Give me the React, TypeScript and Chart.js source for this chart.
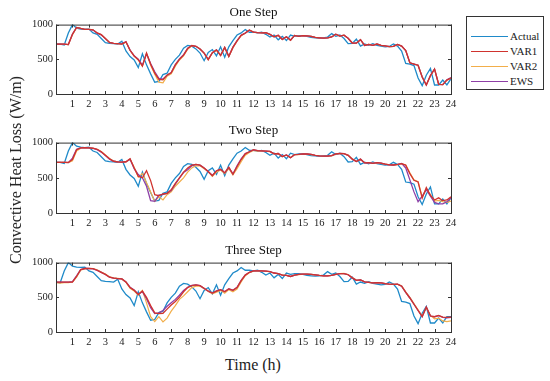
import React, { useEffect, useRef } from "react";
import { Chart, registerables } from "chart.js";
Chart.register(...registerables);

const SERIF = "'Liberation Serif', 'Times New Roman', serif";
Chart.defaults.font.family = SERIF;

// 15-minute sampling grid, hours 0..24
const times: number[] = Array.from({ length: 97 }, (_, i) => i / 4);
const hourTicks: number[] = [0, 1, 2, 3, 4, 5, 6, 7, 8, 9, 10, 11, 12, 13, 14, 15, 16, 17, 18, 19, 20, 21, 22, 23, 24];
const yTicks: number[] = [0, 500, 1000];
const panelTitles: string[] = ["One Step", "Two Step", "Three Step"];
const seriesNames: string[] = ["Actual", "VAR1", "VAR2", "EWS"];

const actual: number[] = [
  720, 720, 705, 880, 1000, 950, 935, 930, 935, 880, 860, 800, 740, 730, 725, 720,
  760, 620, 540, 490, 380, 580, 420, 290, 170, 180, 280, 300, 420, 500, 560, 660,
  700, 690, 650, 590, 480, 600, 640, 550, 680, 530, 680, 770, 850, 880, 930, 890,
  890, 880, 890, 860, 820, 850, 780, 830, 770, 850, 830, 840, 840, 830, 815, 810,
  805, 810, 820, 870, 830, 850, 800, 725, 730, 790, 690, 720, 700, 725, 700, 690,
  680, 685, 720, 690, 620, 440, 430, 410, 230, 120, 270, 370, 130, 130, 200, 130,
  220,
];
const actualThree: number[] = [
  720, 705, 880, 1000, 950, 935, 930, 935, 880, 860, 800, 740, 730, 725, 720, 760,
  620, 540, 490, 380, 580, 420, 290, 170, 180, 280, 300, 420, 500, 560, 660, 700,
  690, 650, 590, 480, 600, 640, 550, 680, 530, 680, 770, 850, 880, 930, 890, 890,
  880, 890, 860, 820, 850, 780, 830, 770, 850, 830, 840, 840, 830, 815, 810, 805,
  810, 820, 870, 830, 850, 800, 725, 730, 790, 690, 720, 700, 725, 700, 690, 680,
  685, 720, 690, 620, 440, 430, 410, 230, 120, 270, 370, 130, 130, 200, 130, 220,
  220,
];

const var1One: number[] = [
  720, 720, 720, 712, 860, 960, 945, 932, 930, 925, 880, 855, 800, 742, 730, 725,
  720, 752, 630, 548, 495, 400, 590, 430, 300, 210, 205, 275, 305, 420, 500, 560,
  655, 698, 688, 648, 590, 495, 595, 635, 555, 672, 540, 672, 765, 845, 878, 922,
  892, 885, 882, 885, 858, 825, 845, 785, 825, 775, 845, 830, 840, 838, 830, 815,
  810, 806, 810, 822, 862, 835, 848, 802, 735, 732, 782, 700, 716, 702, 720, 700,
  692, 682, 686, 715, 690, 625, 450, 432, 415, 245, 130, 265, 360, 140, 135, 200,
  230,
];
const var2One: number[] = [
  720, 720, 720, 712, 855, 955, 945, 932, 930, 925, 880, 855, 800, 742, 730, 725,
  720, 748, 628, 545, 490, 405, 585, 415, 285, 170, 160, 255, 290, 400, 490, 550,
  645, 695, 688, 648, 588, 495, 592, 632, 555, 668, 540, 668, 760, 840, 875, 920,
  892, 885, 882, 885, 858, 825, 845, 785, 825, 775, 845, 830, 840, 838, 830, 815,
  810, 806, 810, 822, 860, 835, 848, 802, 735, 732, 782, 700, 716, 702, 720, 700,
  692, 682, 686, 715, 690, 625, 450, 432, 415, 245, 130, 260, 360, 140, 135, 200,
  230,
];
const ewsOne: number[] = [
  720, 720, 720, 712, 865, 960, 945, 932, 930, 922, 878, 852, 798, 742, 730, 725,
  722, 755, 632, 550, 500, 415, 580, 440, 320, 225, 215, 270, 310, 425, 505, 565,
  660, 698, 688, 648, 590, 500, 595, 635, 558, 672, 545, 675, 768, 848, 878, 920,
  890, 885, 882, 885, 858, 825, 845, 788, 825, 778, 845, 830, 840, 838, 830, 815,
  810, 806, 810, 822, 862, 835, 848, 802, 735, 732, 782, 700, 716, 702, 720, 700,
  692, 682, 686, 715, 690, 625, 450, 432, 415, 245, 130, 265, 360, 140, 135, 205,
  235,
];

const var1Two: number[] = [
  720, 720, 720, 718, 760, 900, 925, 930, 925, 920, 905, 870, 820, 770, 735, 725,
  722, 728, 770, 640, 520, 500, 600, 460, 260, 245, 270, 280, 330, 420, 500, 580,
  640, 680, 690, 680, 640, 590, 530, 600, 620, 570, 650, 550, 660, 760, 840, 870,
  900, 885, 882, 880, 875, 840, 845, 800, 825, 785, 830, 832, 840, 838, 832, 820,
  812, 808, 810, 815, 840, 845, 842, 820, 765, 730, 765, 712, 715, 705, 715, 708,
  695, 685, 682, 690, 700, 680, 560, 465, 440, 210, 360, 250, 185, 215, 175, 185,
  230,
];
const var2Two: number[] = [
  720, 720, 720, 716, 740, 880, 920, 928, 925, 920, 905, 872, 825, 775, 738, 726,
  722, 724, 765, 650, 510, 560, 430, 300, 165, 230, 185, 260, 300, 380, 440, 500,
  580, 640, 670, 670, 630, 585, 520, 580, 610, 560, 630, 540, 630, 730, 820, 860,
  890, 880, 880, 878, 872, 840, 840, 805, 820, 788, 828, 830, 838, 836, 830, 820,
  812, 808, 808, 812, 835, 845, 842, 822, 770, 735, 760, 715, 715, 705, 712, 706,
  695, 685, 680, 688, 700, 680, 570, 470, 445, 230, 340, 260, 170, 180, 160, 150,
  170,
];
const ewsTwo: number[] = [
  720, 720, 720, 716, 780, 905, 925, 930, 925, 918, 900, 865, 815, 765, 735, 725,
  722, 728, 765, 630, 545, 500, 380, 175, 165, 255, 265, 280, 320, 410, 495, 575,
  615, 670, 690, 680, 640, 585, 535, 600, 620, 570, 645, 555, 670, 770, 845, 870,
  895, 885, 882, 880, 875, 840, 845, 805, 825, 785, 830, 832, 840, 838, 832, 820,
  812, 808, 810, 815, 840, 845, 842, 820, 765, 730, 765, 712, 715, 705, 715, 708,
  695, 685, 682, 690, 705, 640, 470, 300, 160, 240, 330, 240, 150, 130, 130, 160,
  215,
];

const var1Three: number[] = [
  720, 720, 720, 718, 720, 800, 900, 915, 915, 912, 890, 860, 830, 790, 775, 770,
  765, 720, 640, 600, 540, 590, 500, 380, 275, 265, 270, 330, 390, 440, 500, 580,
  640, 670, 680, 670, 630, 590, 560, 590, 610, 580, 620, 600, 640, 740, 820, 860,
  880, 882, 880, 878, 870, 850, 840, 820, 815, 800, 820, 830, 835, 835, 830, 822,
  815, 810, 810, 815, 830, 840, 842, 825, 780, 745, 752, 722, 716, 708, 712, 708,
  698, 690, 685, 688, 660, 570, 490, 400, 310, 220, 360, 230, 220, 240, 215, 210,
  215,
];
const var2Three: number[] = [
  710, 705, 710, 712, 720, 790, 890, 912, 915, 915, 895, 865, 835, 795, 780, 772,
  765, 718, 630, 590, 530, 600, 420, 220, 150, 220, 145, 200, 300, 380, 470, 520,
  580, 640, 660, 660, 625, 585, 550, 575, 600, 560, 610, 580, 620, 720, 810, 855,
  878, 880, 878, 876, 868, 850, 840, 822, 815, 800, 820, 828, 835, 835, 830, 822,
  815, 810, 810, 815, 830, 842, 845, 828, 785, 748, 752, 724, 716, 708, 712, 708,
  698, 690, 685, 688, 668, 580, 500, 410, 320, 230, 350, 240, 190, 200, 160, 150,
  160,
];
const ewsThree: number[] = [
  720, 720, 720, 718, 725, 810, 900, 915, 915, 910, 888, 858, 828, 790, 775, 770,
  765, 722, 645, 605, 545, 580, 480, 350, 265, 275, 310, 370, 420, 470, 530, 600,
  645, 672, 680, 668, 628, 588, 562, 592, 610, 582, 622, 602, 645, 745, 822, 860,
  880, 882, 880, 878, 870, 850, 840, 820, 815, 800, 820, 830, 835, 835, 830, 822,
  815, 810, 810, 815, 830, 840, 842, 825, 780, 745, 752, 722, 716, 708, 712, 708,
  698, 690, 685, 688, 660, 570, 490, 400, 310, 220, 360, 230, 220, 235, 210, 205,
  210,
];

const COLORS = {
  Actual: "#1f8ac9",
  VAR1: "#d0332e",
  VAR2: "#f2ae4a",
  EWS: "#8e3fa6",
};

const pts = (vals: number[]) => times.map((t, i) => ({ x: t, y: vals[i] }));

const boxPlugin = {
  id: "boxTicks",
  afterDatasetsDraw(chart: any) {
    const { ctx, chartArea: a, scales } = chart;
    const xs = scales.x;
    const ys = scales.y;
    ctx.save();
    ctx.strokeStyle = "#333";
    ctx.lineWidth = 1;
    ctx.strokeRect(a.left + 0.5, a.top + 0.5, a.right - a.left, a.bottom - a.top);
    const L = 3;
    ctx.beginPath();
    hourTicks.forEach((h) => {
      const px = Math.round(xs.getPixelForValue(h)) + 0.5;
      ctx.moveTo(px, a.bottom);
      ctx.lineTo(px, a.bottom - L);
      ctx.moveTo(px, a.top);
      ctx.lineTo(px, a.top + L);
    });
    yTicks.forEach((v) => {
      const py = Math.round(ys.getPixelForValue(v)) + 0.5;
      ctx.moveTo(a.left, py);
      ctx.lineTo(a.left + L, py);
      ctx.moveTo(a.right, py);
      ctx.lineTo(a.right - L, py);
    });
    ctx.stroke();
    ctx.restore();
  },
};

type PanelProps = {
  title: string;
  top: number;
  height: number;
  act: number[];
  v1: number[];
  v2: number[];
  ews: number[];
};

function Panel({ title, top, height, act, v1, v2, ews }: PanelProps) {
  const ref = useRef<HTMLCanvasElement | null>(null);
  useEffect(() => {
    if (!ref.current) return;
    const mk = (label: string, vals: number[], order: number, width: number) => ({
      label,
      data: pts(vals),
      borderColor: (COLORS as any)[label],
      backgroundColor: (COLORS as any)[label],
      borderWidth: width,
      pointRadius: 0,
      tension: 0,
      fill: false,
      order,
    });
    const chart = new Chart(ref.current, {
      type: "line",
      data: {
        datasets: [
          mk(seriesNames[0], act, 3, 1.3),
          mk(seriesNames[1], v1, 0, 1.3),
          mk(seriesNames[2], v2, 2, 1.2),
          mk(seriesNames[3], ews, 1, 1.3),
        ],
      },
      options: {
        responsive: false,
        animation: false,
        layout: { padding: { left: 0, right: 99, top: 0, bottom: 0 } },
        plugins: {
          legend: { display: false },
          tooltip: { enabled: false },
          title: {
            display: true,
            text: title,
            fullSize: false,
            color: "#111",
            font: { family: SERIF, size: 13, weight: "normal" },
            padding: { top: 5, bottom: 4 },
          },
        },
        scales: {
          x: {
            type: "linear",
            min: 0,
            max: 24,
            grid: { display: false, drawTicks: false },
            border: { display: false },
            afterBuildTicks: (s: any) => {
              s.ticks = hourTicks.map((h) => ({ value: h }));
            },
            ticks: {
              autoSkip: false,
              maxRotation: 0,
              padding: 4,
              color: "#222",
              font: { family: SERIF, size: 10.5 },
              callback: (v: any) => (v === 0 ? "" : String(v)),
            },
            afterFit: (s: any) => {
              s.height = 16;
            },
          },
          y: {
            min: 0,
            max: 1000,
            grid: { display: false, drawTicks: false },
            border: { display: false },
            afterBuildTicks: (s: any) => {
              s.ticks = yTicks.map((v) => ({ value: v }));
            },
            ticks: {
              padding: 3,
              color: "#222",
              font: { family: SERIF, size: 10.5 },
              callback: (v: any) => String(v),
            },
            afterFit: (s: any) => {
              s.width = 56;
            },
          },
        },
      } as any,
      plugins: [boxPlugin],
    });
    return () => chart.destroy();
  }, [title, act, v1, v2, ews]);
  return (
    <canvas
      ref={ref}
      width={550}
      height={height}
      style={{ position: "absolute", left: 0, top, width: 550, height }}
    />
  );
}

function Legend() {
  return (
    <div
      style={{
        position: "absolute",
        left: 466,
        top: 16,
        width: 76,
        height: 72,
        border: "1px solid #333",
        background: "#fff",
        fontFamily: SERIF,
        fontSize: 11,
        color: "#222",
      }}
    >
      {seriesNames.map((name, i) => (
        <div
          key={name}
          style={{ position: "absolute", left: 0, top: 12 + i * 15, width: 76, height: 14 }}
        >
          <div
            style={{
              position: "absolute",
              left: 4,
              top: 7,
              width: 37,
              borderTop: `1.5px solid ${(COLORS as any)[name]}`,
            }}
          />
          <span style={{ position: "absolute", left: 43, top: 0, lineHeight: "14px", whiteSpace: "nowrap" }}>
            {name}
          </span>
        </div>
      ))}
    </div>
  );
}

export default function App() {
  return (
    <div
      style={{
        position: "fixed",
        left: 0,
        top: 0,
        width: 550,
        height: 381,
        background: "#fff",
        overflow: "hidden",
      }}
    >
      <Panel title={panelTitles[0]} top={0} height={110} act={actual} v1={var1One} v2={var2One} ews={ewsOne} />
      <Panel title={panelTitles[1]} top={118} height={111} act={actual} v1={var1Two} v2={var2Two} ews={ewsTwo} />
      <Panel title={panelTitles[2]} top={238} height={110} act={actualThree} v1={var1Three} v2={var2Three} ews={ewsThree} />
      <Legend />
      <div
        style={{
          position: "absolute",
          left: 16,
          top: 170,
          transform: "translate(-50%, -50%) rotate(-90deg)",
          whiteSpace: "nowrap",
          fontFamily: SERIF,
          fontSize: 16,
          color: "#222",
        }}
      >
        Convective Heat Loss (W/m)
      </div>
      <div
        style={{
          position: "absolute",
          left: 253,
          top: 365,
          transform: "translate(-50%, -50%)",
          whiteSpace: "nowrap",
          fontFamily: SERIF,
          fontSize: 16,
          color: "#222",
        }}
      >
        Time (h)
      </div>
    </div>
  );
}
